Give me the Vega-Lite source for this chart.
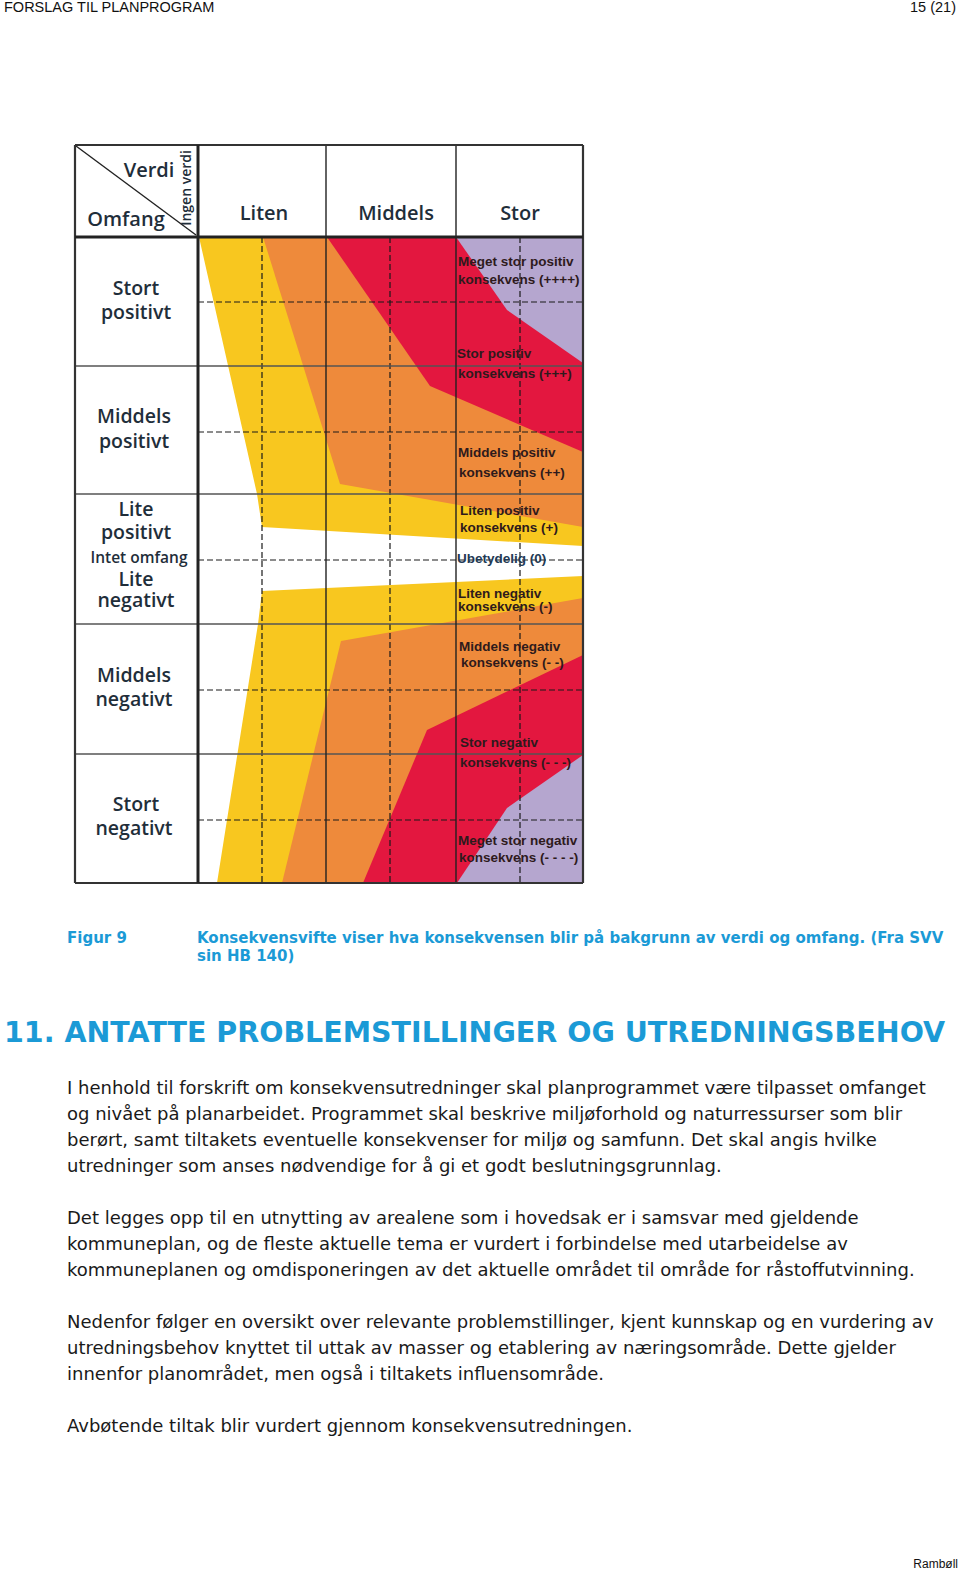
{
  "$schema": "https://vega.github.io/schema/vega-lite/v6.json",
  "width": 960,
  "height": 1572,
  "padding": 0,
  "autosize": {"type": "fit", "contains": "padding"},
  "background": "white",
  "config": {"view": {"stroke": null}},
  "datasets": {
    "soner": [
      {"sone": "liten", "del": "over", "x": 199, "y": 237, "y0": 237},
      {"sone": "liten", "del": "over", "x": 257, "y": 494, "y0": 237},
      {"sone": "liten", "del": "over", "x": 262, "y": 527, "y0": 237},
      {"sone": "liten", "del": "over", "x": 583, "y": 546, "y0": 237},
      {"sone": "liten", "del": "under", "x": 217, "y": 883, "y0": 883},
      {"sone": "liten", "del": "under", "x": 258, "y": 624, "y0": 883},
      {"sone": "liten", "del": "under", "x": 262, "y": 591, "y0": 883},
      {"sone": "liten", "del": "under", "x": 583, "y": 576, "y0": 883},
      {"sone": "middels", "del": "over", "x": 263, "y": 237, "y0": 237},
      {"sone": "middels", "del": "over", "x": 340, "y": 484, "y0": 237},
      {"sone": "middels", "del": "over", "x": 583, "y": 527, "y0": 237},
      {"sone": "middels", "del": "under", "x": 282, "y": 883, "y0": 883},
      {"sone": "middels", "del": "under", "x": 341, "y": 641, "y0": 883},
      {"sone": "middels", "del": "under", "x": 583, "y": 598, "y0": 883},
      {"sone": "stor", "del": "over", "x": 327, "y": 237, "y0": 237},
      {"sone": "stor", "del": "over", "x": 430, "y": 386, "y0": 237},
      {"sone": "stor", "del": "over", "x": 583, "y": 452, "y0": 237},
      {"sone": "stor", "del": "under", "x": 363, "y": 883, "y0": 883},
      {"sone": "stor", "del": "under", "x": 427, "y": 730, "y0": 883},
      {"sone": "stor", "del": "under", "x": 583, "y": 655, "y0": 883},
      {"sone": "meget stor", "del": "over", "x": 456, "y": 237, "y0": 237},
      {"sone": "meget stor", "del": "over", "x": 507, "y": 310, "y0": 237},
      {"sone": "meget stor", "del": "over", "x": 583, "y": 363, "y0": 237},
      {"sone": "meget stor", "del": "under", "x": 457, "y": 883, "y0": 883},
      {"sone": "meget stor", "del": "under", "x": 507, "y": 808, "y0": 883},
      {"sone": "meget stor", "del": "under", "x": 583, "y": 755, "y0": 883}
    ],
    "linjer": [
      {"kind": "stiplet", "x": 198, "x2": 583, "y": 302, "y2": 302},
      {"kind": "stiplet", "x": 198, "x2": 583, "y": 432, "y2": 432},
      {"kind": "stiplet", "x": 198, "x2": 583, "y": 560, "y2": 560},
      {"kind": "stiplet", "x": 198, "x2": 583, "y": 690, "y2": 690},
      {"kind": "stiplet", "x": 198, "x2": 583, "y": 820, "y2": 820},
      {"kind": "stiplet", "x": 262, "x2": 262, "y": 237, "y2": 883},
      {"kind": "stiplet", "x": 390, "x2": 390, "y": 237, "y2": 883},
      {"kind": "stiplet", "x": 520, "x2": 520, "y": 237, "y2": 883},
      {"kind": "rad", "x": 75, "x2": 583, "y": 366, "y2": 366},
      {"kind": "rad", "x": 75, "x2": 583, "y": 494, "y2": 494},
      {"kind": "rad", "x": 75, "x2": 583, "y": 624, "y2": 624},
      {"kind": "rad", "x": 75, "x2": 583, "y": 754, "y2": 754},
      {"kind": "kolonne", "x": 326, "x2": 326, "y": 145, "y2": 883},
      {"kind": "kolonne", "x": 456, "x2": 456, "y": 145, "y2": 883},
      {"kind": "diagonal", "x": 76, "x2": 196, "y": 146, "y2": 235},
      {"kind": "ramme", "x": 75, "x2": 583, "y": 145, "y2": 145},
      {"kind": "ramme", "x": 75, "x2": 583, "y": 883, "y2": 883},
      {"kind": "ramme", "x": 75, "x2": 75, "y": 145, "y2": 883},
      {"kind": "ramme", "x": 583, "x2": 583, "y": 145, "y2": 883},
      {"kind": "tykk", "x": 198, "x2": 198, "y": 145, "y2": 883},
      {"kind": "tykk", "x": 75, "x2": 583, "y": 237, "y2": 237}
    ],
    "tekst": [
      {"grp": "side", "t": "FORSLAG TIL PLANPROGRAM", "x": 4, "y": 8},
      {"grp": "sidenr", "t": "15 (21)", "x": 956, "y": 8},
      {"grp": "hode", "t": "Verdi", "x": 149, "y": 169},
      {"grp": "hode", "t": "Omfang", "x": 126, "y": 218},
      {"grp": "hode", "t": "Liten", "x": 264, "y": 212},
      {"grp": "hode", "t": "Middels", "x": 396, "y": 212},
      {"grp": "hode", "t": "Stor", "x": 520, "y": 212},
      {"grp": "ingen", "t": "Ingen verdi", "x": 187, "y": 188},
      {"grp": "rad", "t": "Stort", "x": 136, "y": 287},
      {"grp": "rad", "t": "positivt", "x": 136, "y": 311},
      {"grp": "rad", "t": "Middels", "x": 134, "y": 415},
      {"grp": "rad", "t": "positivt", "x": 134, "y": 440},
      {"grp": "rad", "t": "Lite", "x": 136, "y": 508},
      {"grp": "rad", "t": "positivt", "x": 136, "y": 531},
      {"grp": "intet", "t": "Intet omfang", "x": 139, "y": 556},
      {"grp": "rad", "t": "Lite", "x": 136, "y": 578},
      {"grp": "rad", "t": "negativt", "x": 136, "y": 599},
      {"grp": "rad", "t": "Middels", "x": 134, "y": 674},
      {"grp": "rad", "t": "negativt", "x": 134, "y": 698},
      {"grp": "rad", "t": "Stort", "x": 136, "y": 803},
      {"grp": "rad", "t": "negativt", "x": 134, "y": 827},
      {"grp": "sone", "t": "Meget stor positiv", "x": 458, "y": 260},
      {"grp": "sone", "t": "konsekvens (++++)", "x": 458, "y": 278},
      {"grp": "sone", "t": "Stor positiv", "x": 457, "y": 352},
      {"grp": "sone", "t": "konsekvens  (+++)", "x": 458, "y": 372},
      {"grp": "sone", "t": "Middels positiv", "x": 458, "y": 451},
      {"grp": "sone", "t": "konsekvens (++)", "x": 459, "y": 471},
      {"grp": "sone", "t": "Liten positiv", "x": 460, "y": 509},
      {"grp": "sone", "t": "konsekvens (+)", "x": 460, "y": 526},
      {"grp": "null", "t": "Ubetydelig (0)", "x": 457, "y": 557},
      {"grp": "sone", "t": "Liten negativ", "x": 458, "y": 592},
      {"grp": "sone", "t": "konsekvens (-)", "x": 458, "y": 605},
      {"grp": "sone", "t": "Middels negativ", "x": 459, "y": 645},
      {"grp": "sone", "t": "konsekvens (- -)", "x": 461, "y": 661},
      {"grp": "sone", "t": "Stor negativ", "x": 460, "y": 741},
      {"grp": "sone", "t": "konsekvens (- - -)", "x": 460, "y": 761},
      {"grp": "sone", "t": "Meget stor negativ", "x": 458, "y": 839},
      {"grp": "sone", "t": "konsekvens  (- - - -)", "x": 459, "y": 856},
      {"grp": "figur", "t": "Figur 9", "x": 67, "y": 934},
      {"grp": "figur", "t": "Konsekvensvifte viser hva konsekvensen blir på bakgrunn av verdi og omfang. (Fra SVV", "x": 197, "y": 934},
      {"grp": "figur", "t": "sin HB 140)", "x": 197, "y": 952},
      {"grp": "overskrift", "t": "11. ANTATTE PROBLEMSTILLINGER OG UTREDNINGSBEHOV", "x": 4, "y": 1029},
      {"grp": "brød", "t": "I henhold til forskrift om konsekvensutredninger skal planprogrammet være tilpasset omfanget", "x": 67, "y": 1085},
      {"grp": "brød", "t": "og nivået på planarbeidet. Programmet skal beskrive miljøforhold og naturressurser som blir", "x": 67, "y": 1111},
      {"grp": "brød", "t": "berørt, samt tiltakets eventuelle konsekvenser for miljø og samfunn. Det skal angis hvilke", "x": 67, "y": 1137},
      {"grp": "brød", "t": "utredninger som anses nødvendige for å gi et godt beslutningsgrunnlag.", "x": 67, "y": 1163},
      {"grp": "brød", "t": "Det legges opp til en utnytting av arealene som i hovedsak er i samsvar med gjeldende", "x": 67, "y": 1215},
      {"grp": "brød", "t": "kommuneplan, og de fleste aktuelle tema er vurdert i forbindelse med utarbeidelse av", "x": 67, "y": 1241},
      {"grp": "brød", "t": "kommuneplanen og omdisponeringen av det aktuelle området til område for råstoffutvinning.", "x": 67, "y": 1267},
      {"grp": "brød", "t": "Nedenfor følger en oversikt over relevante problemstillinger, kjent kunnskap og en vurdering av", "x": 67, "y": 1319},
      {"grp": "brød", "t": "utredningsbehov knyttet til uttak av masser og etablering av næringsområde. Dette gjelder", "x": 67, "y": 1345},
      {"grp": "brød", "t": "innenfor planområdet, men også i tiltakets influensområde.", "x": 67, "y": 1371},
      {"grp": "brød", "t": "Avbøtende tiltak blir vurdert gjennom konsekvensutredningen.", "x": 67, "y": 1423},
      {"grp": "fot", "t": "Rambøll", "x": 958, "y": 1560}
    ]
  },
  "encoding": {
    "x": {"field": "x", "type": "quantitative", "scale": {"domain": [0, 960], "nice": false, "zero": false}, "axis": null},
    "y": {"field": "y", "type": "quantitative", "scale": {"domain": [0, 1572], "nice": false, "zero": false, "reverse": true}, "axis": null, "stack": null}
  },
  "layer": [
    {
      "data": {"name": "soner"},
      "transform": [{"filter": "datum.sone === 'liten'"}],
      "mark": {"type": "area", "opacity": 1},
      "encoding": {
        "y2": {"field": "y0"},
        "detail": {"field": "del"},
        "color": {"field": "sone", "type": "nominal", "legend": null, "scale": {"domain": ["liten", "middels", "stor", "meget stor"], "range": ["#f8c71f", "#ee8a3b", "#e3173f", "#b5a6cf"]}}
      }
    },
    {
      "data": {"name": "soner"},
      "transform": [{"filter": "datum.sone === 'middels'"}],
      "mark": {"type": "area", "opacity": 1},
      "encoding": {
        "y2": {"field": "y0"},
        "detail": {"field": "del"},
        "color": {"field": "sone", "type": "nominal", "legend": null}
      }
    },
    {
      "data": {"name": "soner"},
      "transform": [{"filter": "datum.sone === 'stor'"}],
      "mark": {"type": "area", "opacity": 1},
      "encoding": {
        "y2": {"field": "y0"},
        "detail": {"field": "del"},
        "color": {"field": "sone", "type": "nominal", "legend": null}
      }
    },
    {
      "data": {"name": "soner"},
      "transform": [{"filter": "datum.sone === 'meget stor'"}],
      "mark": {"type": "area", "opacity": 1},
      "encoding": {
        "y2": {"field": "y0"},
        "detail": {"field": "del"},
        "color": {"field": "sone", "type": "nominal", "legend": null}
      }
    },
    {
      "data": {"name": "linjer"},
      "transform": [{"filter": "datum.kind === 'stiplet'"}],
      "mark": {"type": "rule", "color": "#1a1a1a", "strokeWidth": 1.2, "strokeDash": [6, 3]},
      "encoding": {"x2": {"field": "x2"}, "y2": {"field": "y2"}}
    },
    {
      "data": {"name": "linjer"},
      "transform": [{"filter": "datum.kind === 'rad'"}],
      "mark": {"type": "rule", "color": "#555555", "strokeWidth": 1.6},
      "encoding": {"x2": {"field": "x2"}, "y2": {"field": "y2"}}
    },
    {
      "data": {"name": "linjer"},
      "transform": [{"filter": "datum.kind === 'kolonne' || datum.kind === 'diagonal'"}],
      "mark": {"type": "rule", "color": "#222222", "strokeWidth": 1.4},
      "encoding": {"x2": {"field": "x2"}, "y2": {"field": "y2"}}
    },
    {
      "data": {"name": "linjer"},
      "transform": [{"filter": "datum.kind === 'ramme'"}],
      "mark": {"type": "rule", "color": "#333333", "strokeWidth": 2.2},
      "encoding": {"x2": {"field": "x2"}, "y2": {"field": "y2"}}
    },
    {
      "data": {"name": "linjer"},
      "transform": [{"filter": "datum.kind === 'tykk'"}],
      "mark": {"type": "rule", "color": "#222222", "strokeWidth": 3},
      "encoding": {"x2": {"field": "x2"}, "y2": {"field": "y2"}}
    },
    {
      "data": {"name": "tekst"},
      "transform": [{"filter": "datum.grp === 'side'"}],
      "mark": {"type": "text", "align": "left", "baseline": "middle", "font": "Liberation Sans", "fontSize": 14.5, "color": "#111111"},
      "encoding": {"text": {"field": "t"}}
    },
    {
      "data": {"name": "tekst"},
      "transform": [{"filter": "datum.grp === 'sidenr'"}],
      "mark": {"type": "text", "align": "right", "baseline": "middle", "font": "Liberation Sans", "fontSize": 14.5, "color": "#111111"},
      "encoding": {"text": {"field": "t"}}
    },
    {
      "data": {"name": "tekst"},
      "transform": [{"filter": "datum.grp === 'hode'"}],
      "mark": {"type": "text", "align": "center", "baseline": "middle", "dy": 2, "font": "Open Sans", "fontWeight": 600, "fontSize": 20, "color": "#1f2e3a"},
      "encoding": {"text": {"field": "t"}}
    },
    {
      "data": {"name": "tekst"},
      "transform": [{"filter": "datum.grp === 'rad'"}],
      "mark": {"type": "text", "align": "center", "baseline": "middle", "dy": 2, "font": "Open Sans", "fontWeight": 600, "fontSize": 19.5, "color": "#1f2e3a"},
      "encoding": {"text": {"field": "t"}}
    },
    {
      "data": {"name": "tekst"},
      "transform": [{"filter": "datum.grp === 'intet'"}],
      "mark": {"type": "text", "align": "center", "baseline": "middle", "dy": 2, "font": "Open Sans", "fontWeight": 600, "fontSize": 15.5, "color": "#1f2e3a"},
      "encoding": {"text": {"field": "t"}}
    },
    {
      "data": {"name": "tekst"},
      "transform": [{"filter": "datum.grp === 'ingen'"}],
      "mark": {"type": "text", "align": "center", "baseline": "middle", "angle": 270, "font": "Open Sans", "fontWeight": 600, "fontSize": 14, "color": "#1f2e3a"},
      "encoding": {"text": {"field": "t"}}
    },
    {
      "data": {"name": "tekst"},
      "transform": [{"filter": "datum.grp === 'sone'"}],
      "mark": {"type": "text", "align": "left", "baseline": "middle", "dy": 2, "font": "Liberation Sans", "fontWeight": "bold", "fontSize": 13.5, "color": "#2e1a1c"},
      "encoding": {"text": {"field": "t"}}
    },
    {
      "data": {"name": "tekst"},
      "transform": [{"filter": "datum.grp === 'null'"}],
      "mark": {"type": "text", "align": "left", "baseline": "middle", "dy": 2, "font": "Liberation Sans", "fontWeight": "bold", "fontSize": 13.5, "color": "#233a55"},
      "encoding": {"text": {"field": "t"}}
    },
    {
      "data": {"name": "tekst"},
      "transform": [{"filter": "datum.grp === 'figur'"}],
      "mark": {"type": "text", "align": "left", "baseline": "middle", "dy": 4, "font": "DejaVu Sans", "fontWeight": "bold", "fontSize": 15, "color": "#1b9ad6"},
      "encoding": {"text": {"field": "t"}}
    },
    {
      "data": {"name": "tekst"},
      "transform": [{"filter": "datum.grp === 'overskrift'"}],
      "mark": {"type": "text", "align": "left", "baseline": "middle", "dy": 4, "font": "DejaVu Sans", "fontWeight": "bold", "fontSize": 28.5, "color": "#1b9ad6"},
      "encoding": {"text": {"field": "t"}}
    },
    {
      "data": {"name": "tekst"},
      "transform": [{"filter": "datum.grp === 'brød'"}],
      "mark": {"type": "text", "align": "left", "baseline": "middle", "dy": 4, "font": "DejaVu Sans", "fontSize": 18, "color": "#1a1a1a"},
      "encoding": {"text": {"field": "t"}}
    },
    {
      "data": {"name": "tekst"},
      "transform": [{"filter": "datum.grp === 'fot'"}],
      "mark": {"type": "text", "align": "right", "baseline": "middle", "dy": 4, "font": "Liberation Sans", "fontSize": 12, "color": "#111111"},
      "encoding": {"text": {"field": "t"}}
    }
  ]
}
